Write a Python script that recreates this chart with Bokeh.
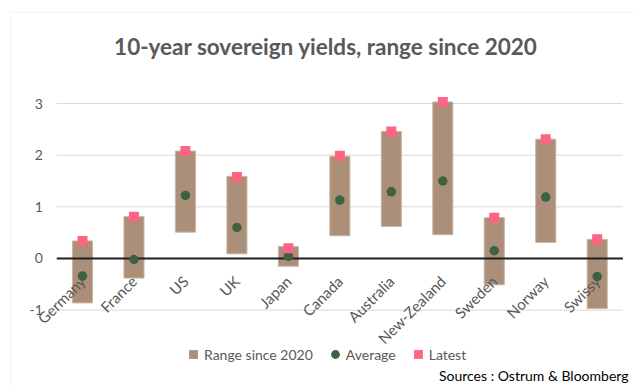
import math
from bokeh.plotting import figure
from bokeh.models import (ColumnDataSource, Range1d, Label, Legend, LegendItem, BoxAnnotation)
from bokeh.core.properties import value
from bokeh.embed import file_html
from bokeh.resources import INLINE

# ---- data ----
countries = ["Germany", "France", "US", "UK", "Japan", "Canada", "Australia",
             "New-Zealand", "Sweden", "Norway", "Swissy"]
range_low = [-0.86, -0.38, 0.51, 0.09, -0.15, 0.44, 0.62, 0.46, -0.51, 0.31, -0.97]
range_high = [0.34, 0.81, 2.08, 1.59, 0.23, 1.98, 2.46, 3.03, 0.79, 2.31, 0.37]
average = [-0.34, -0.02, 1.22, 0.60, 0.04, 1.13, 1.29, 1.50, 0.15, 1.19, -0.35]
latest = [0.34, 0.81, 2.08, 1.58, 0.20, 1.99, 2.46, 3.03, 0.79, 2.31, 0.37]
y_ticks = [-1, 0, 1, 2, 3]
y_tick_labels = ["-1", "0", "1", "2", "3"]
title_text = "10-year sovereign yields, range since 2020"
source_text = "Sources : Ostrum & Bloomberg"
legend_labels = ["Range since 2020", "Average", "Latest"]

FONT = "Lato"
BAR = "#AC8F79"
GREEN = "#3F6142"
PINK = "#FF6482"
GREY_TXT = "#595959"

n = len(countries)
x_pos = list(range(n))            # category slots on the x scale
x_left, x_right = -0.5, n - 0.5   # plot-area edges (half a slot outside first/last)

src = ColumnDataSource(dict(x=x_pos, country=countries, low=range_low, high=range_high,
                            average=average, latest=latest, zero=[0] * n))
tick_src = ColumnDataSource(dict(y=y_ticks, label=y_tick_labels,
                                 x0=[x_left] * len(y_ticks), x1=[x_right] * len(y_ticks)))

# the frame covers the whole canvas; plot area is x in [-0.5, 10.5], y in [-1, 3]
p = figure(width=635, height=387,
           x_range=Range1d(-1.593, 10.744), y_range=Range1d(-2.498, 4.995),
           x_axis_location=None, y_axis_location=None,
           output_backend="svg", toolbar_location=None,
           min_border=0)
p.outline_line_color = None
p.background_fill_color = "white"
p.border_fill_color = "white"
p.grid.grid_line_color = None

# gridlines and y tick labels
p.segment(x0="x0", x1="x1", y0="y", y1="y", source=tick_src,
          line_color="#D9D9D9", line_width=1)
p.text(x="x0", y="y", text="label", source=tick_src, x_offset=-14,
       text_align="right", text_baseline="middle", text_font=value(FONT),
       text_font_size="14px", text_color=GREY_TXT)

bars = p.vbar(x="x", bottom="low", top="high", width=0.39, source=src,
              fill_color=BAR, line_color="#C9B5A6", line_width=1)
p.segment(x0=[x_left], x1=[x_right], y0=[0], y1=[0], line_color="#1F1F1F", line_width=1.8)

# category labels (drawn over the bars, under the markers, as in the reference)
p.text(x="x", y="zero", text="country", source=src, angle=math.pi / 4,
       x_offset=0, y_offset=20, text_align="right", text_baseline="middle",
       text_font=value(FONT), text_font_size="15px", text_color=GREY_TXT)

bar_proxy = p.scatter(x="x", y="high", size=0, marker="square", source=src,
                      fill_color=BAR, line_color=None)
avg_r = p.scatter(x="x", y="average", size=9.5, marker="circle", source=src,
                  fill_color=GREEN, line_color=None)
last_r = p.scatter(x="x", y="latest", size=10, marker="square", source=src,
                   fill_color=PINK, line_color=None)

legend = Legend(items=[LegendItem(label=legend_labels[0], renderers=[bar_proxy]),
                       LegendItem(label=legend_labels[1], renderers=[avg_r]),
                       LegendItem(label=legend_labels[2], renderers=[last_r])],
                location=(182, 22), orientation="horizontal",
                glyph_width=22, glyph_height=22, label_standoff=0, spacing=11,
                padding=0, margin=0, border_line_color=None, background_fill_alpha=0,
                label_text_font=FONT, label_text_font_size="14px",
                label_text_color=GREY_TXT)
p.add_layout(legend)

p.add_layout(Label(x=325.5, y=46, x_units="canvas", y_units="canvas", text=title_text,
                   text_align="center", text_baseline="alphabetic", text_font=FONT,
                   text_font_size="22.5px", text_font_style="bold", text_color=GREY_TXT))
p.add_layout(Label(x=628, y=375, x_units="canvas", y_units="canvas", text=source_text,
                   text_align="right", text_baseline="middle", text_font=FONT,
                   text_font_size="14px", text_color="black"))
p.add_layout(BoxAnnotation(left=10, right=700, top=12, bottom=450,
                           left_units="canvas", right_units="canvas",
                           top_units="canvas", bottom_units="canvas",
                           fill_color=None, line_color="#D9D9D9", line_width=1))

open("out.html", "w").write(file_html(p, INLINE))
